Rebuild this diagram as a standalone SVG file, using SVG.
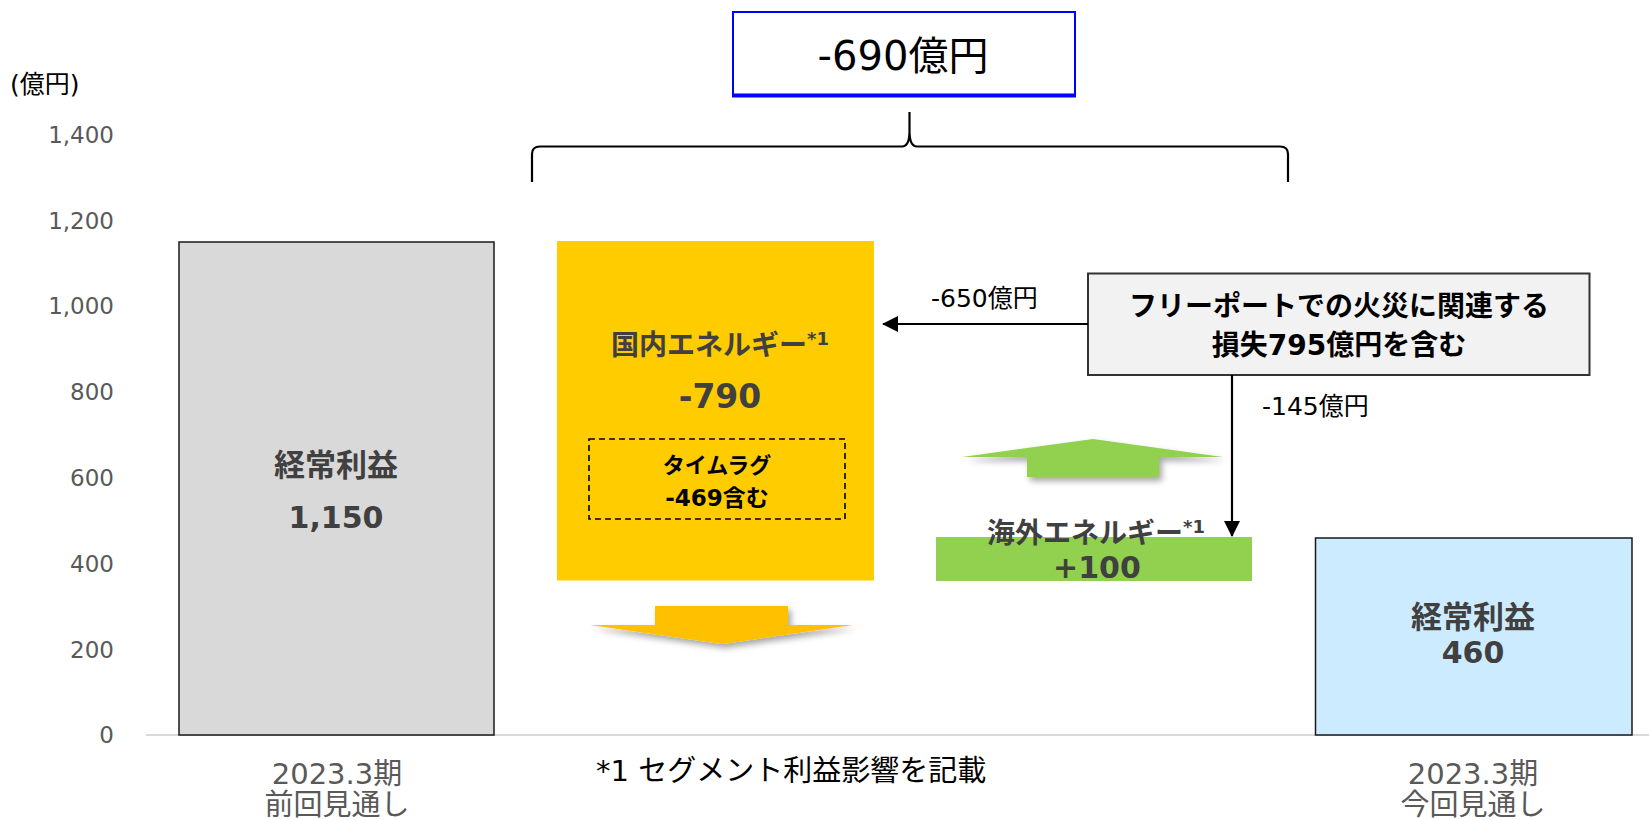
<svg xmlns="http://www.w3.org/2000/svg" width="1649" height="820" viewBox="0 0 1649 820">
<defs>
<style>
text{font-family:"DejaVu Sans","Noto Sans CJK JP",sans-serif;}
.ax{font-size:23px;fill:#595959;text-anchor:end;}
.cat{font-size:29px;fill:#595959;text-anchor:middle;}
.bl{font-weight:bold;fill:#404040;text-anchor:middle;}
.lbl{font-size:25px;fill:#000;}
.bar{stroke:#1a1a1a;stroke-width:1.5;}
.conn{stroke:#000;stroke-width:2.2;fill:none;}
</style>
<marker id="ah" viewBox="0 0 16 16" refX="15" refY="8" markerWidth="16" markerHeight="16" markerUnits="userSpaceOnUse" orient="auto">
<path d="M0,0 L16,8 L0,16 Z" fill="#000"/>
</marker>
<filter id="sh" x="-20%" y="-50%" width="140%" height="220%">
<feDropShadow dx="3" dy="4" stdDeviation="3" flood-color="#000" flood-opacity="0.35"/>
</filter>
</defs>
<rect x="0" y="0" width="1649" height="820" fill="#fff"/>

<g id="axis">
<text x="10" y="93" style="font-size:25px;fill:#000">(億円)</text>
<text class="ax" x="114" y="143">1,400</text>
<text class="ax" x="114" y="229">1,200</text>
<text class="ax" x="114" y="314">1,000</text>
<text class="ax" x="114" y="400">800</text>
<text class="ax" x="114" y="486">600</text>
<text class="ax" x="114" y="572">400</text>
<text class="ax" x="114" y="658">200</text>
<text class="ax" x="114" y="743">0</text>
<line x1="146" y1="735" x2="1649" y2="735" stroke="#d9d9d9" stroke-width="2"/>
</g>

<g id="bar-prev">
<rect class="bar" x="179" y="242" width="315" height="493" fill="#d9d9d9"/>
<text class="bl" x="336" y="476" font-size="31">経常利益</text>
<text class="bl" x="336" y="528" font-size="30">1,150</text>
</g>

<g id="bar-domestic">
<rect x="557" y="241" width="317" height="339.5" fill="#ffcc00"/>
<text class="bl" x="720" y="355" font-size="28">国内エネルギー<tspan font-size="18" dy="-10">*1</tspan></text>
<text class="bl" x="720" y="408" font-size="33">-790</text>
</g>

<g id="timelag">
<rect x="589" y="439" width="256" height="80" fill="none" stroke="#000" stroke-width="1.6" stroke-dasharray="6,4"/>
<text x="717" y="473" font-size="22" font-weight="bold" fill="#000" text-anchor="middle">タイムラグ</text>
<text x="717" y="506" font-size="23" font-weight="bold" fill="#000" text-anchor="middle">-469含む</text>
</g>

<g id="arrow-down">
<path d="M655,606 L788,606 L788,625 L853,625 L722,644 L590,625 L655,625 Z" fill="#ffc000" filter="url(#sh)"/>
</g>

<g id="arrow-up">
<path d="M1093,439 L1223,457 L1159,457 L1159,477 L1027,477 L1027,457 L962,457 Z" fill="#92d050" filter="url(#sh)"/>
</g>

<g id="bar-overseas">
<rect x="936" y="537" width="316" height="44" fill="#92d050"/>
<text class="bl" x="1096" y="543" font-size="28">海外エネルギー<tspan font-size="18" dy="-10">*1</tspan></text>
<text class="bl" x="1097" y="578" font-size="30">+100</text>
</g>

<g id="freeport">
<rect x="1088" y="273.5" width="501.5" height="101.5" fill="#f2f2f2" stroke="#333" stroke-width="2"/>
<text x="1339" y="316" font-size="28" font-weight="bold" fill="#000" text-anchor="middle">フリーポートでの火災に関連する</text>
<text x="1339" y="355" font-size="28" font-weight="bold" fill="#000" text-anchor="middle">損失795億円を含む</text>
</g>

<g id="bar-new">
<rect class="bar" x="1315.5" y="538" width="316.5" height="197" fill="#cdebff"/>
<text class="bl" x="1473" y="628" font-size="31">経常利益</text>
<text class="bl" x="1473" y="663" font-size="30">460</text>
</g>

<g id="total">
<rect x="733" y="12" width="342" height="84" fill="#fff" stroke="#0000ff" stroke-width="2"/>
<line x1="732" y1="95.5" x2="1076" y2="95.5" stroke="#0000ff" stroke-width="4"/>
<text x="903" y="70" font-size="40" fill="#000" text-anchor="middle">-690億円</text>
</g>

<g id="connectors">
<path class="conn" d="M532,182 L532,154 Q532,146.5 540,146.5 L902,146.5 Q909.5,146.5 909.5,131 L909.5,112 M909.5,131 Q909.5,146.5 917,146.5 L1280,146.5 Q1288,146.5 1288,154 L1288,182"/>
<line class="conn" x1="1088" y1="324" x2="883" y2="324" marker-end="url(#ah)"/>
<line class="conn" x1="1232" y1="375" x2="1232" y2="536" marker-end="url(#ah)"/>
<text class="lbl" x="931" y="307">-650億円</text>
<text class="lbl" x="1262" y="415">-145億円</text>
</g>

<g id="labels">
<text class="cat" x="337" y="784">2023.3期</text>
<text class="cat" x="337" y="815">前回見通し</text>
<text class="cat" x="1473" y="784">2023.3期</text>
<text class="cat" x="1473" y="815">今回見通し</text>
<text x="596" y="781" font-size="29" fill="#000">*1 セグメント利益影響を記載</text>
</g>
</svg>
